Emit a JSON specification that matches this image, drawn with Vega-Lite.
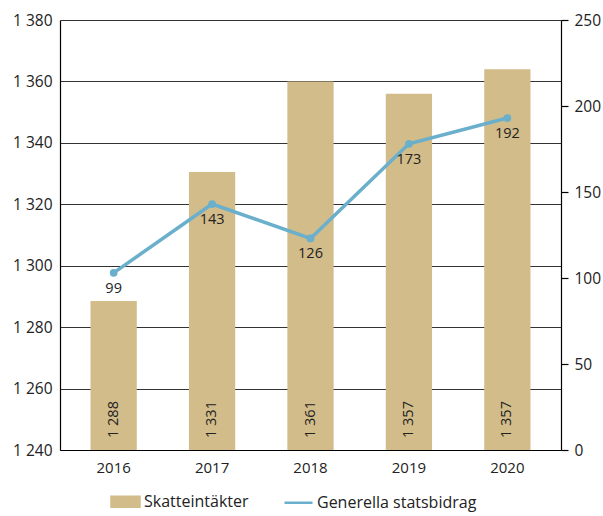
{
  "$schema": "https://vega.github.io/schema/vega-lite/v6.json",
  "width": 501,
  "height": 430,
  "autosize": {"type": "none"},
  "padding": {"left": 60, "top": 20, "right": 42, "bottom": 66},
  "data": {
    "values": [
      {"year": "2016", "skatt": 1288.5, "skatt_label": "1 288", "bidrag": 103, "bidrag_label": "99"},
      {"year": "2017", "skatt": 1330.5, "skatt_label": "1 331", "bidrag": 143, "bidrag_label": "143"},
      {"year": "2018", "skatt": 1360, "skatt_label": "1 361", "bidrag": 123, "bidrag_label": "126"},
      {"year": "2019", "skatt": 1356, "skatt_label": "1 357", "bidrag": 178, "bidrag_label": "173"},
      {"year": "2020", "skatt": 1364, "skatt_label": "1 357", "bidrag": 193, "bidrag_label": "192"}
    ]
  },
  "config": {
    "view": {"stroke": null},
    "font": "Open Sans",
    "axis": {"labelColor": "#222222", "titleColor": "#222222"}
  },
  "encoding": {
    "x": {
      "field": "year",
      "type": "ordinal",
      "scale": {"paddingInner": 0.53, "paddingOuter": 0.31},
      "axis": {
        "title": null,
        "labelAngle": 0,
        "ticks": false,
        "domainColor": "#000000",
        "domainWidth": 1.2,
        "labelFontSize": 15,
        "labelPadding": 10
      }
    }
  },
  "layer": [
    {
      "layer": [
        {
          "mark": {"type": "bar"},
          "encoding": {
            "y": {
              "field": "skatt",
              "type": "quantitative",
              "scale": {"domain": [1240, 1380], "nice": false, "zero": false},
              "axis": {
                "orient": "left",
                "title": null,
                "values": [1240, 1260, 1280, 1300, 1320, 1340, 1360, 1380],
                "labelExpr": "replace(format(datum.value, ','), ',', ' ')",
                "grid": true,
                "gridColor": "#333333",
                "gridWidth": 1.2,
                "ticks": false,
                "domain": true,
                "domainColor": "#000000",
                "domainWidth": 1.2,
                "labelFontSize": 15.5,
                "labelPadding": 8
              }
            },
            "y2": {"datum": 1240},
            "color": {
              "datum": "Skatteintäkter",
              "scale": {
                "domain": ["Skatteintäkter", "Generella statsbidrag"],
                "range": ["#d2bc8a", "#6aafcb"]
              },
              "legend": {
                "title": null,
                "orient": "none",
                "legendX": 50,
                "legendY": 466,
                "direction": "horizontal",
                "labelFontSize": 16,
                "labelColor": "#222222",
                "symbolSize": 784,
                "labelOffset": 3,
                "columnPadding": 30,
                "encode": {
                  "symbols": {
                    "update": {
                      "shape": {"signal": "datum.value === 'Skatteintäkter' ? 'M-1,-0.36H1V0.36H-1Z' : 'M-1,0H1'"},
                      "fill": {"signal": "datum.value === 'Skatteintäkter' ? '#d2bc8a' : 'transparent'"},
                      "stroke": {"signal": "datum.value === 'Skatteintäkter' ? 'transparent' : '#6aafcb'"},
                      "strokeWidth": {"value": 2.5},
                      "opacity": {"value": 1},
                      "fillOpacity": {"value": 1},
                      "strokeOpacity": {"value": 1}
                    }
                  }
                }
              }
            }
          }
        },
        {
          "mark": {"type": "text", "angle": 270, "align": "left", "baseline": "middle", "dx": 12, "fontSize": 14.5, "color": "#222222"},
          "encoding": {
            "y": {"datum": 1240, "type": "quantitative"},
            "text": {"field": "skatt_label"}
          }
        }
      ]
    },
    {
      "layer": [
        {
          "mark": {"type": "line", "strokeWidth": 3.5},
          "encoding": {
            "y": {
              "field": "bidrag",
              "type": "quantitative",
              "scale": {"domain": [0, 250], "nice": false},
              "axis": {
                "orient": "right",
                "title": null,
                "values": [0, 50, 100, 150, 200, 250],
                "grid": false,
                "ticks": true,
                "tickSize": 7,
                "tickColor": "#000000",
                "tickWidth": 1.2,
                "domain": true,
                "domainColor": "#000000",
                "domainWidth": 1.2,
                "labelFontSize": 15.5,
                "labelPadding": 6
              }
            },
            "color": {"datum": "Generella statsbidrag"}
          }
        },
        {
          "mark": {"type": "point", "filled": true, "size": 60, "opacity": 1},
          "encoding": {
            "y": {"field": "bidrag", "type": "quantitative"},
            "color": {"datum": "Generella statsbidrag"}
          }
        },
        {
          "mark": {"type": "text", "dy": 16, "baseline": "middle", "align": "center", "fontSize": 14.5, "color": "#222222"},
          "encoding": {
            "y": {"field": "bidrag", "type": "quantitative"},
            "text": {"field": "bidrag_label"}
          }
        }
      ]
    }
  ],
  "resolve": {"scale": {"y": "independent"}}
}
